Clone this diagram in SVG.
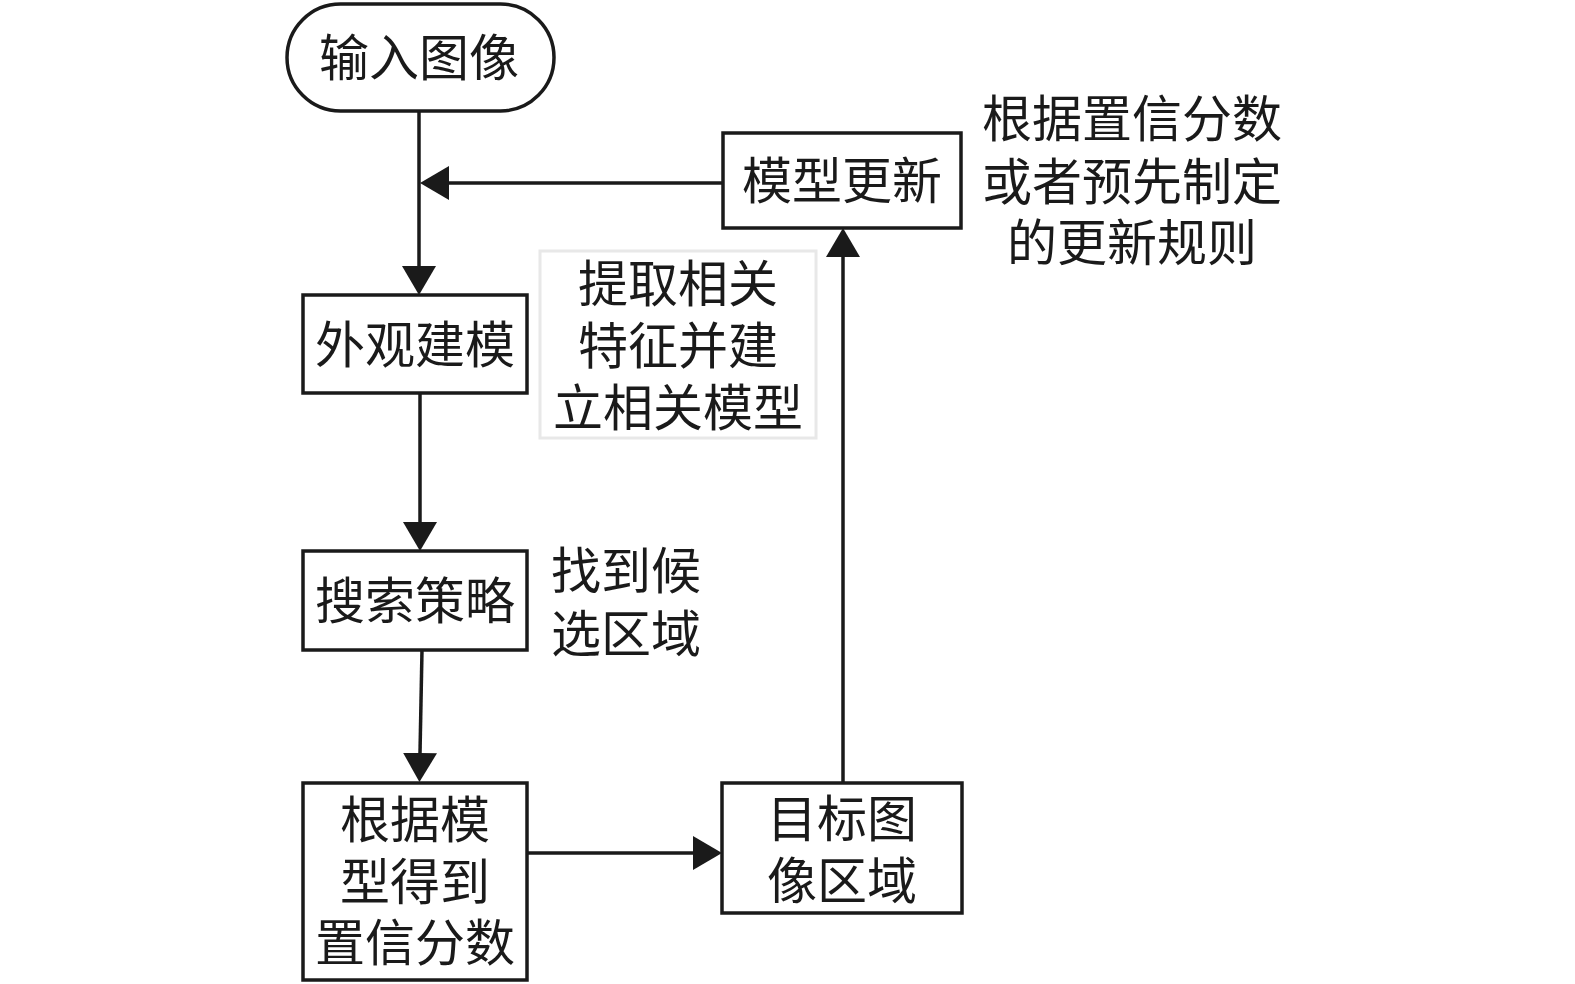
<svg xmlns="http://www.w3.org/2000/svg" width="1575" height="984" viewBox="0 0 1575 984">
<defs>
<style>
.box{fill:#fff;stroke:#1a1a1a;stroke-width:3.5}
.note{fill:#fff;stroke:#e8e8e8;stroke-width:3}
.t{font-family:"Noto Sans CJK SC","Noto Sans CJK JP",sans-serif;font-size:50px;fill:#1a1a1a;text-anchor:middle}
.c{fill:none;stroke:#1a1a1a;stroke-width:3.5}
</style>
<marker id="ah" markerUnits="userSpaceOnUse" markerWidth="30" markerHeight="34" refX="0" refY="17" orient="auto" viewBox="0 0 30 34">
<path d="M0,0 L29,17 L0,34 Z" fill="#1a1a1a"/>
</marker>
</defs>
<rect width="1575" height="984" fill="#fff"/>
<g id="connectors">
<line class="c" x1="419" y1="111" x2="419" y2="266" marker-end="url(#ah)"/>
<line class="c" x1="723" y1="183" x2="449" y2="183" marker-end="url(#ah)"/>
<line class="c" x1="420" y1="393" x2="420" y2="522" marker-end="url(#ah)"/>
<line class="c" x1="422" y1="650" x2="420" y2="753" marker-end="url(#ah)"/>
<line class="c" x1="527" y1="853" x2="693" y2="853" marker-end="url(#ah)"/>
<line class="c" x1="843" y1="783" x2="843" y2="257" marker-end="url(#ah)"/>
</g>
<g id="input">
<rect class="box" x="287" y="4" width="267" height="107" rx="53.5" ry="53.5"/>
<text class="t" x="419" y="76">输入图像</text>
</g>
<g id="update">
<rect class="box" x="723" y="133" width="238" height="95"/>
<text class="t" x="842" y="199">模型更新</text>
</g>
<g id="appearance">
<rect class="box" x="303" y="295" width="224" height="98"/>
<text class="t" x="415" y="363">外观建模</text>
</g>
<g id="note-model">
<rect class="note" x="540" y="251" width="276" height="187"/>
<text class="t" x="678" y="302">提取相关</text>
<text class="t" x="678" y="364">特征并建</text>
<text class="t" x="678" y="426">立相关模型</text>
</g>
<g id="search">
<rect class="box" x="303" y="551" width="224" height="99"/>
<text class="t" x="415" y="619">搜索策略</text>
</g>
<g id="note-search">
<text class="t" x="626" y="589">找到候</text>
<text class="t" x="626" y="652">选区域</text>
</g>
<g id="score">
<rect class="box" x="303" y="783" width="224" height="197"/>
<text class="t" x="415" y="838">根据模</text>
<text class="t" x="415" y="900">型得到</text>
<text class="t" x="415" y="961">置信分数</text>
</g>
<g id="target">
<rect class="box" x="722" y="783" width="240" height="130"/>
<text class="t" x="842" y="837">目标图</text>
<text class="t" x="842" y="899">像区域</text>
</g>
<g id="note-update">
<text class="t" x="1132" y="137">根据置信分数</text>
<text class="t" x="1132" y="200">或者预先制定</text>
<text class="t" x="1132" y="261">的更新规则</text>
</g>
</svg>
